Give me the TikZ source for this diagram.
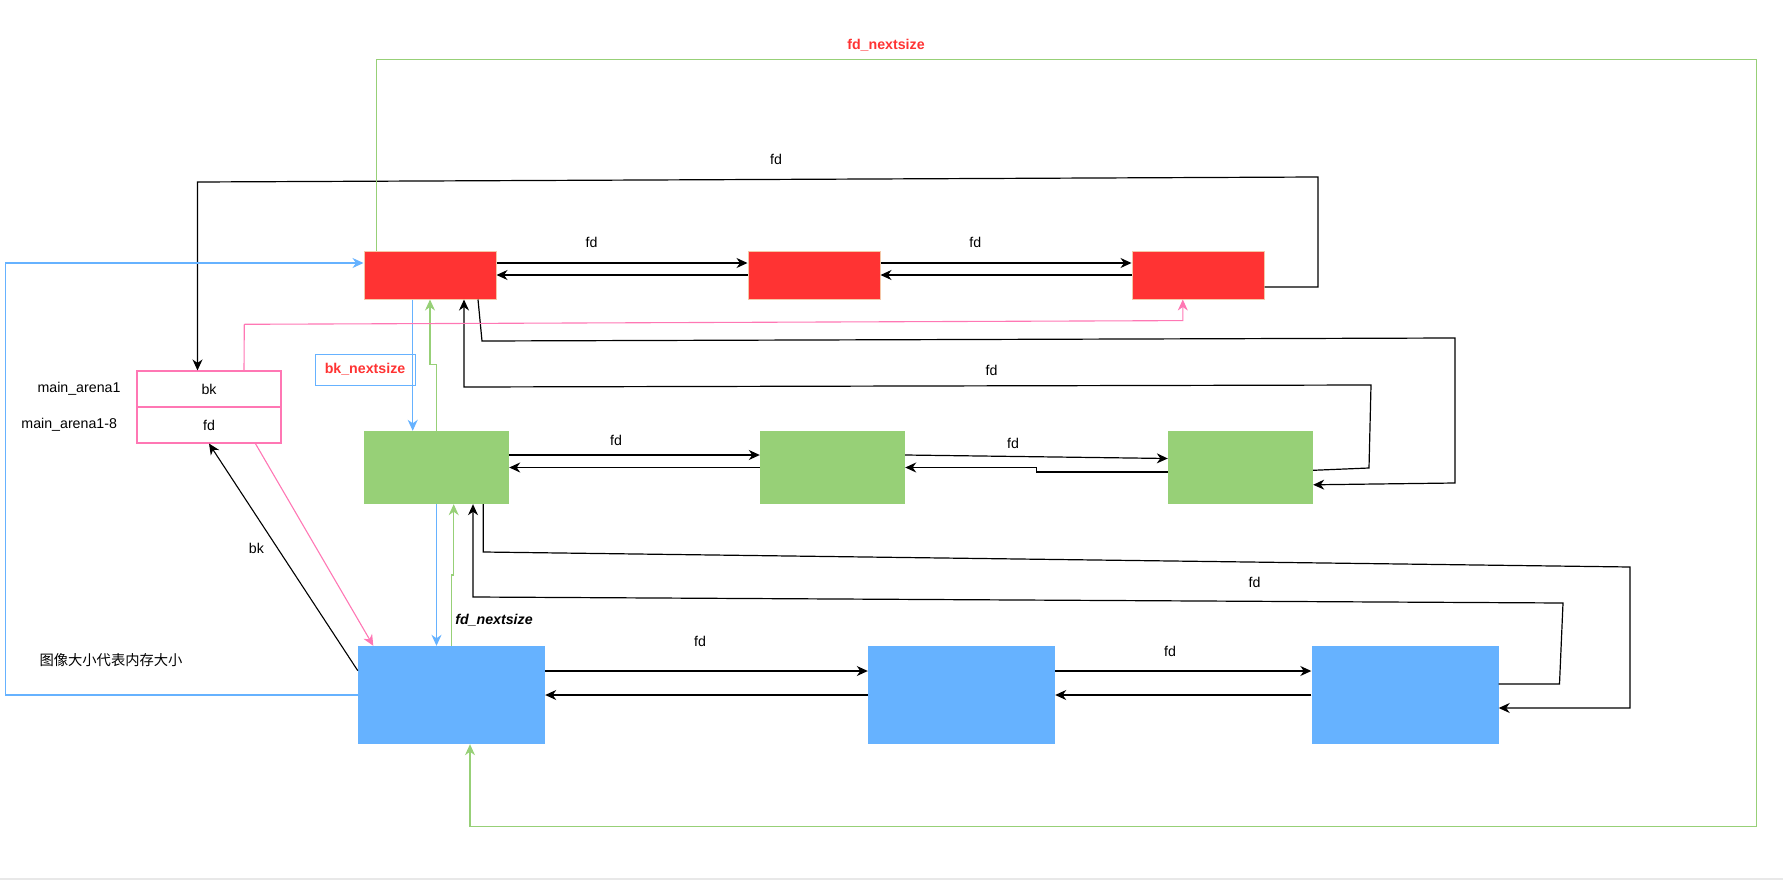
\documentclass[tikz,border=0pt]{standalone}
\usepackage{fontspec}
\setmainfont{Liberation Sans}
\newfontfamily\cjkfont{Noto Sans CJK SC}
\usetikzlibrary{arrows.meta}
\definecolor{chunkred}{HTML}{FF3333}
\definecolor{chunkredline}{HTML}{F4C7A8}
\definecolor{chunkgreen}{HTML}{97D077}
\definecolor{chunkblue}{HTML}{66B2FF}
\definecolor{arenapink}{HTML}{FF77B4}
\newcommand\lblsize{\fontsize{14.2}{17}\selectfont}

\begin{document}
\begin{tikzpicture}[x=1pt, y=-1pt,
      >={Stealth[length=11pt,width=10pt,inset=3.5pt]},
      every node/.style={font=\lblsize},
      redchunk/.style={draw=chunkredline, line width=1pt, fill=chunkred, minimum width=132pt, minimum height=48pt, inner sep=0pt},
      greenchunk/.style={fill=chunkgreen, minimum width=145pt, minimum height=73pt, inner sep=0pt},
      bluechunk/.style={fill=chunkblue, minimum width=187pt, minimum height=98pt, inner sep=0pt},
      arena/.style={draw=arenapink, line width=1.1pt, minimum width=144pt, minimum height=36pt, inner sep=0pt},
      fdlink/.style={->, line width=1.2pt},
      bluelink/.style={->, draw=chunkblue, line width=1.1pt},
      greenlink/.style={->, draw=chunkgreen, line width=1.1pt},
      pinklink/.style={->, draw=arenapink, line width=1.1pt},
      lab/.style={inner sep=1pt}]
    \useasboundingbox (0,0) rectangle (1783,880);
    \fill[black!9] (0,877.5) rectangle (1783,880);
    % chunks, one row per size
    \node[redchunk] (R1) at (430,275) {};
    \node[redchunk] (R2) at (814,275) {};
    \node[redchunk] (R3) at (1198,275) {};
    \node[greenchunk] (G1) at (436.5,467.5) {};
    \node[greenchunk] (G2) at (832.5,467.5) {};
    \node[greenchunk] (G3) at (1240.5,467.5) {};
    \node[bluechunk] (B1) at (451.5,695) {};
    \node[bluechunk] (B2) at (961.5,695) {};
    \node[bluechunk] (B3) at (1405,695) {};
    % main_arena
    \node[arena] (armbk) at (209,389) {bk};
    \node[arena] (armfd) at (209,425) {fd};
    \node[anchor=east] (armbkname) at (124,389) {main\_arena1};
    \node[anchor=east] (armfdname) at (120.5,425) {main\_arena1-8};
    \node[draw=chunkblue, line width=1pt, minimum width=100pt, minimum height=31pt, text=chunkred, font=\lblsize\bfseries] (bkns) at (365,369.5) {bk\_nextsize};
    % fd / bk inside each row
    \draw[fdlink] ([yshift=12pt]R1.east) -- ([yshift=12pt]R2.west);
    \draw[fdlink] (R2.west) -- (R1.east);
    \draw[fdlink] ([yshift=12pt]R2.east) -- ([yshift=12pt]R3.west);
    \draw[fdlink] (R3.west) -- (R2.east);
    \draw[fdlink] ([yshift=12.5pt]G1.east) -- ([yshift=12.5pt]G2.west);
    \draw[fdlink] (G2.west) -- (G1.east);
    \draw[fdlink] ([yshift=12.5pt]G2.east) -- ([yshift=9pt]G3.west);
    \draw[fdlink] ([yshift=-4.5pt]G3.west) -- (1036.7,472) -- (1036.7,467.5) -- (G2.east);
    \draw[fdlink] ([yshift=24pt]B1.east) -- ([yshift=24pt]B2.west);
    \draw[fdlink] (B2.west) -- (B1.east);
    \draw[fdlink] ([yshift=24pt]B2.east) -- ([yshift=24pt]B3.west);
    \draw[fdlink] (B3.west) -- (B2.east);
    \node[lab] (fdr1) at (591.5,242) {fd};
    \node[lab] (fdr2) at (975.4,242) {fd};
    \node[lab] (fdg1) at (616,440) {fd};
    \node[lab] (fdg2) at (1013,443) {fd};
    \node[lab] (fdb1) at (700,641) {fd};
    \node[lab] (fdb2) at (1170,651) {fd};
    % fd between rows
    \draw[fdlink] ([yshift=-12pt]R3.east) -- (1318,287) -- (1318,177) -- (197.5,182) -- ([xshift=-11.5pt]armbk.north);
    \draw[fdlink] ([xshift=48pt]R1.south) -- (482,341) -- (1455,338) -- (1455,483) -- ([yshift=-17.3pt]G3.east);
    \draw[fdlink] ([yshift=-2.8pt]G3.east) -- (1369,468) -- (1371,385) -- (464,387) -- ([xshift=34pt]R1.south);
    \draw[fdlink] ([xshift=46.8pt]G1.south) -- (483.3,552) -- (1630,567) -- (1630,708) -- ([yshift=-13pt]B3.east);
    \draw[fdlink] ([yshift=11pt]B3.east) -- (1559.5,684) -- (1563,603) -- (473,597) -- ([xshift=36.5pt]G1.south);
    \node[lab] (fdtop) at (776,159) {fd};
    \node[lab] (fdrg) at (991.6,370.7) {fd};
    \node[lab] (fdgb) at (1254.6,582) {fd};
    % nextsize links
    \draw[bluelink] ([xshift=-17.3pt]R1.south) -- ([xshift=-23.8pt]G1.north);
    \draw[greenlink] (G1.north) -- ++(0,-66) -| (R1.south);
    \draw[bluelink] (G1.south) -- ([xshift=-15pt]B1.north);
    \draw[greenlink] (B1.north) -- (451.5,575) -- (453.7,575) -- ([xshift=17.2pt]G1.south);
    \draw[greenlink] ([xshift=-53.4pt]R1.north) |- (1756.4,59.3) |- (470,826.7) -- ([xshift=18.5pt]B1.south);
    \draw[bluelink] (B1.west) -| (5.4,263) -- ([yshift=12pt]R1.west);
    \node[lab, text=chunkred, font=\lblsize\bfseries] (fdnstop) at (886,45) {fd\_nextsize};
    \node[lab, font=\lblsize\bfseries\itshape] (fdnsbot) at (494,620) {fd\_nextsize};
    % main_arena links
    \draw[pinklink] ([xshift=35pt]armbk.north) -- (244.3,324.3) -- (1182.8,320.6) -- ([xshift=-15.2pt]R3.south);
    \draw[pinklink] ([xshift=46.4pt]armfd.south) -- ([xshift=15.5pt]B1.north west);
    \draw[->, line width=1.1pt] ([yshift=24.3pt]B1.west) -- (armfd.south);
    \node[lab] (bklab) at (256.4,548.3) {bk};
    \node[font=\fontsize{14.3}{17}\cjkfont] (note) at (111,660) {图像大小代表内存大小};
  \end{tikzpicture}
\end{document}
